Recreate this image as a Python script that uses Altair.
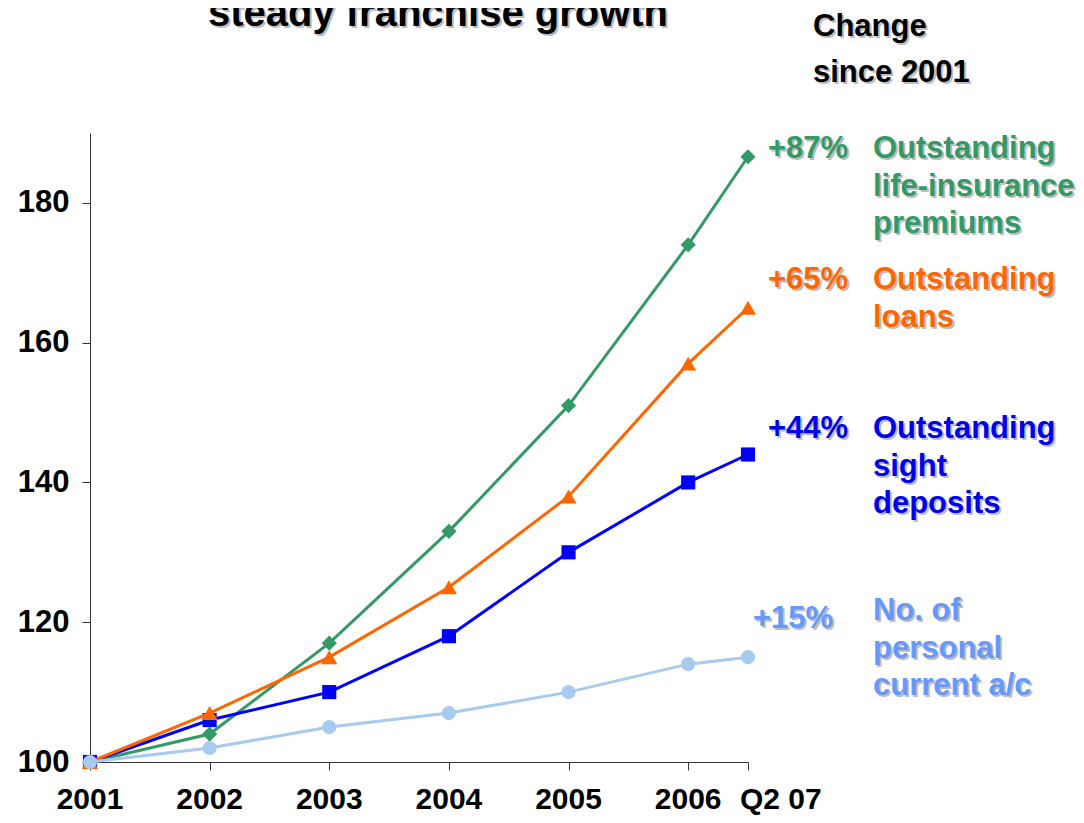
import altair as alt
import pandas as pd

# ---- data ----
periods = [2001, 2002, 2003, 2004, 2005, 2006, 2006.5]
period_labels = ["2001", "2002", "2003", "2004", "2005", "2006", "Q2 07"]
life_insurance = [100, 104, 117, 133, 151, 174, 186.6]
loans = [100, 107, 115, 125, 138, 157, 165]
sight_deposits = [100, 106, 110, 118, 130, 140, 144]
personal_accounts = [100, 102, 105, 107, 110, 114, 115]

series_names = ["life-insurance premiums", "sight deposits", "loans", "personal current a/c"]
series_values = [life_insurance, sight_deposits, loans, personal_accounts]
series_line_colors = ["#339966", "#0000FF", "#FF6600", "#A6CAF0"]
series_shapes = ["diamond", "square", "triangle-up", "circle"]
series_sizes = [230, 200, 260, 200]

change_labels = ["+87%", "+65%", "+44%", "+15%"]
desc_labels = ["Outstanding\nlife-insurance\npremiums", "Outstanding\nloans",
               "Outstanding\nsight\ndeposits", "No. of\npersonal\ncurrent a/c"]
text_colors = ["#339966", "#FF6600", "#0000EE", "#6699FF"]

title_text = "steady franchise growth"
header_text = "Change\nsince 2001"

FONT = "Liberation Sans"
W, H = 658, 629
SHADOW = "#BDBDBD"

x_scale = alt.Scale(domain=[2001, 2006.5], nice=False, zero=False)
y_scale = alt.Scale(domain=[100, 190], nice=False, zero=False)

layers = []

# axes carrier
base_axes = alt.Chart(pd.DataFrame({"x": periods, "y": life_insurance})).mark_point(opacity=0).encode(
    x=alt.X("x:Q", scale=x_scale,
            axis=alt.Axis(values=periods, labels=False, ticks=True, tickSize=8, grid=False,
                          title=None, domainColor="#333", tickColor="#333")),
    y=alt.Y("y:Q", scale=y_scale,
            axis=alt.Axis(values=[100, 120, 140, 160, 180], tickSize=8, grid=False, title=None,
                          labelFont=FONT, labelFontSize=31, labelFontWeight="bold",
                          labelColor="#000", labelPadding=13,
                          domainColor="#333", tickColor="#333")),
)
layers.append(base_axes)

for name, vals, col, shp, sz in zip(series_names, series_values, series_line_colors,
                                    series_shapes, series_sizes):
    df = pd.DataFrame({"x": periods, "y": vals, "series": name})
    ln = alt.Chart(df).mark_line(color=col, strokeWidth=3).encode(
        x=alt.X("x:Q", scale=x_scale), y=alt.Y("y:Q", scale=y_scale))
    pt = alt.Chart(df).mark_point(shape=shp, size=sz, filled=True, color=col, opacity=1).encode(
        x=alt.X("x:Q", scale=x_scale), y=alt.Y("y:Q", scale=y_scale))
    layers += [ln, pt]

# x tick labels
xl = pd.DataFrame({"x": periods[:-1], "label": period_labels[:-1]})
layers.append(alt.Chart(xl).mark_text(font=FONT, fontSize=30, fontWeight="bold", color="#000",
                                      align="center", baseline="alphabetic").encode(
    x=alt.X("x:Q", scale=x_scale), y=alt.value(H + 47), text="label:N"))
xl2 = pd.DataFrame({"x": periods[-1:], "label": period_labels[-1:]})
layers.append(alt.Chart(xl2).mark_text(font=FONT, fontSize=30, fontWeight="bold", color="#000",
                                       align="left", dx=-8, baseline="alphabetic").encode(
    x=alt.X("x:Q", scale=x_scale), y=alt.value(H + 47), text="label:N"))


def shadow_text(text, px, py, color, size, align="left", line_height=37.5):
    out = []
    for c, off in ((SHADOW, 2), (color, 0)):
        out.append(alt.Chart(pd.DataFrame({"t": [text]})).mark_text(
            font=FONT, fontSize=size, fontWeight="bold", color=c, align=align,
            baseline="alphabetic", lineBreak="\n", lineHeight=line_height).encode(
            x=alt.value(px + off), y=alt.value(py + off), text="t:N"))
    return out


# title and header (plot-area pixel offsets)
layers += shadow_text(title_text, 348, -107, "#000", 40, align="center")
layers += shadow_text(header_text, 723, -97, "#000", 31, line_height=46)

pct_x = [678, 678, 678, 663]
pct_y = [25, 156, 305, 495]
desc_y = [25, 156, 305, 487]
for lab, desc, col, px, py, dy in zip(change_labels, desc_labels, text_colors, pct_x, pct_y, desc_y):
    layers += shadow_text(lab, px, py, col, 31)
    layers += shadow_text(desc, 783, dy, col, 31)

chart = alt.layer(*layers).properties(
    width=W, height=H,
    autosize=alt.AutoSizeParams(type="none"),
    padding={"left": 82, "top": 125, "right": 328, "bottom": 53},
    background="white",
).configure_view(stroke=None)

chart.save("out.html", embed_options={"renderer": "svg", "actions": False})
